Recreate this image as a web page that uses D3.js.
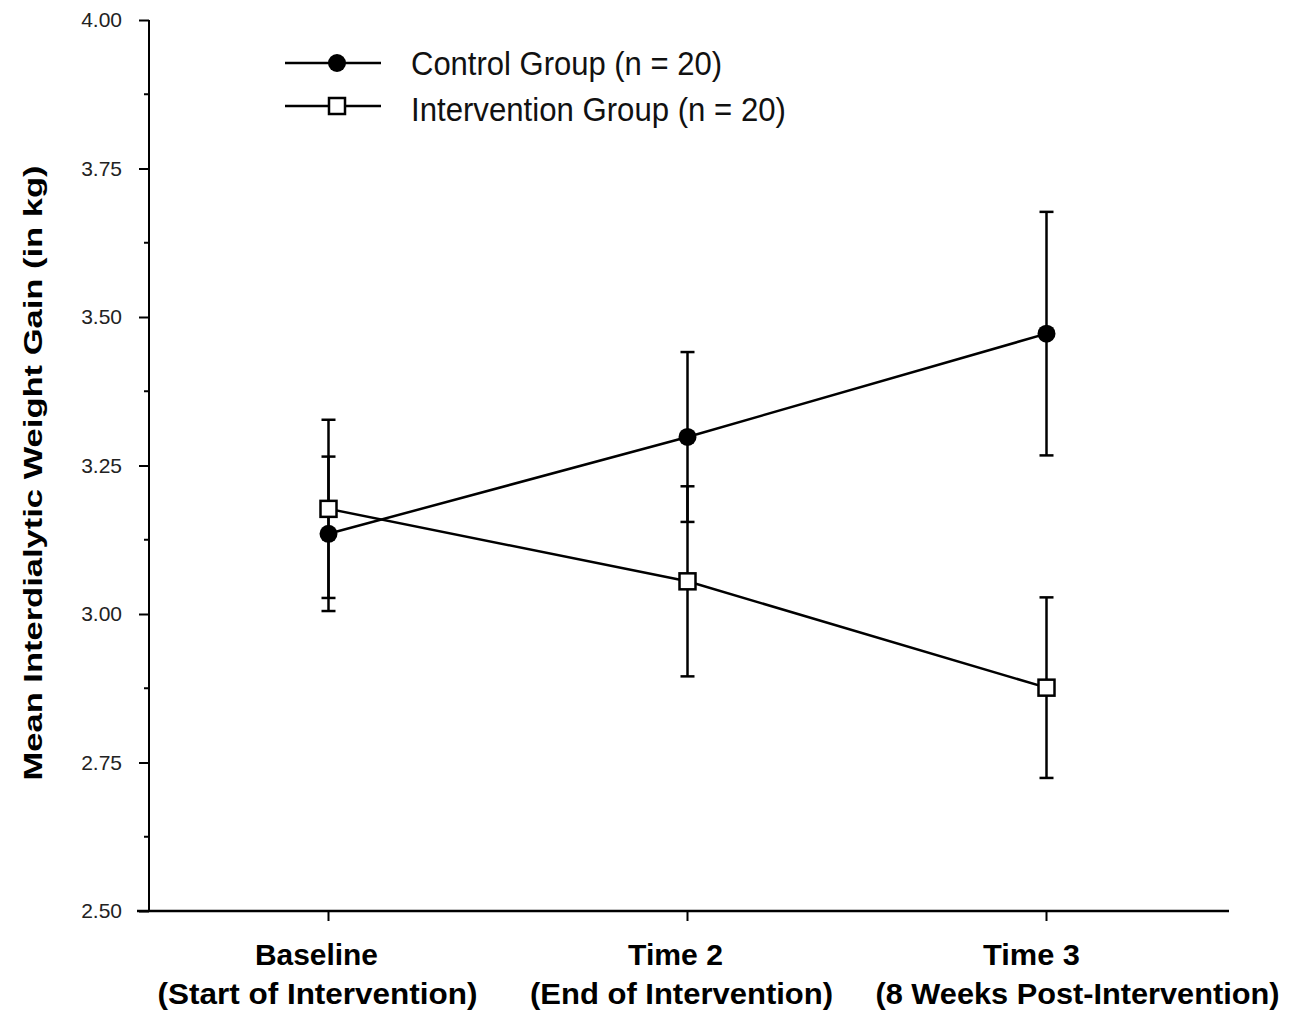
<!DOCTYPE html>
<html>
<head>
<meta charset="utf-8">
<script src="https://cdn.jsdelivr.net/npm/d3@7"></script>
<style>
  body { margin: 0; background: #fff; }
  svg { display: block; }
</style>
</head>
<body>
<div id="chart"></div>
<script>
// data
let timepoints = ['Baseline', 'Time 2', 'Time 3']
let timeSub = ['(Start of Intervention)', '(End of Intervention)', '(8 Weeks Post-Intervention)']
let controlMean = [3.135, 3.298, 3.472]
let controlErr = [0.13, 0.143, 0.205]
let interventionMean = [3.177, 3.055, 2.876]
let interventionErr = [0.15, 0.16, 0.152]
let yTicks = [2.50, 2.75, 3.00, 3.25, 3.50, 3.75, 4.00]
let yMinorTicks = [2.625, 2.875, 3.125, 3.375, 3.625, 3.875]
let seriesNames = ['Control Group (n = 20)', 'Intervention Group (n = 20)']

// layout of the stretched, condensed lettering in the scan
let labelShift = [[-12, -11], [-12, -6], [-15, 31]]
let labelWidth = [[123, 320], [95, 303], [97, 404]]
let legendWidth = [311, 375]

let width = 1298
let height = 1016
let margin = { top: 20, left: 149, bottom: 105, right: 72 }
let fontFam = 'Liberation Sans, Arial, sans-serif'

let svg = d3.select('#chart')
            .append('svg')
            .attr('width', width)
            .attr('height', height)

let x = d3.scalePoint()
          .domain(timepoints)
          .range([margin.left, width - margin.right])
          .padding(0.5)

let y = d3.scaleLinear()
          .domain([2.5, 4.0])
          .range([height - margin.bottom, margin.top])

let baseY = y(2.5)

// y axis
let yAxis = svg.append('g')
               .attr('transform', 'translate(' + margin.left + ',0)')
               .call(d3.axisLeft(y).tickValues(yTicks).tickFormat(d3.format('.2f')).tickSize(10).tickPadding(17))
yAxis.select('.domain').attr('d', 'M0,' + y(4.0) + 'V' + baseY).attr('stroke-width', 2)
yAxis.selectAll('.tick line').attr('stroke-width', 2)
yAxis.selectAll('.tick text')
     .style('font-family', fontFam)
     .style('font-size', '21px')
     .attr('fill', '#222')

svg.append('g')
   .selectAll('line')
   .data(yMinorTicks)
   .enter()
   .append('line')
   .attr('x1', margin.left - 5)
   .attr('x2', margin.left)
   .attr('y1', d => y(d))
   .attr('y2', d => y(d))
   .attr('stroke', '#000')
   .attr('stroke-width', 2)

// x axis
svg.append('line')
   .attr('x1', margin.left - 12)
   .attr('x2', width - margin.right + 3)
   .attr('y1', baseY)
   .attr('y2', baseY)
   .attr('stroke', '#000')
   .attr('stroke-width', 2.5)

svg.append('g')
   .selectAll('line')
   .data(timepoints)
   .enter()
   .append('line')
   .attr('x1', d => x(d))
   .attr('x2', d => x(d))
   .attr('y1', baseY)
   .attr('y2', baseY + 10)
   .attr('stroke', '#000')
   .attr('stroke-width', 2)

let xLabels = svg.append('g')
                 .style('font-family', fontFam)
                 .style('font-weight', 'bold')
                 .style('font-size', '30px')
                 .attr('text-anchor', 'middle')
timepoints.forEach(function (t, i) {
  xLabels.append('text')
         .attr('x', x(t) + labelShift[i][0])
         .attr('y', 965)
         .attr('textLength', labelWidth[i][0])
         .attr('lengthAdjust', 'spacingAndGlyphs')
         .text(t)
  xLabels.append('text')
         .attr('x', x(t) + labelShift[i][1])
         .attr('y', 1004)
         .attr('textLength', labelWidth[i][1])
         .attr('lengthAdjust', 'spacingAndGlyphs')
         .text(timeSub[i])
})

// y axis title
svg.append('text')
   .attr('transform', 'translate(42,' + 473 + ') rotate(-90)')
   .attr('text-anchor', 'middle')
   .attr('textLength', 615)
   .attr('lengthAdjust', 'spacingAndGlyphs')
   .style('font-family', fontFam)
   .style('font-weight', 'bold')
   .style('font-size', '25px')
   .text('Mean Interdialytic Weight Gain (in kg)')

// series
let series = [
  { name: seriesNames[0], mean: controlMean, err: controlErr, shape: 'circle' },
  { name: seriesNames[1], mean: interventionMean, err: interventionErr, shape: 'square' }
]

let line = d3.line()
             .x((d, i) => x(timepoints[i]))
             .y(d => y(d))

// error bars first
series.forEach(function (s) {
  let g = svg.append('g')
  s.mean.forEach(function (m, i) {
    let cx = x(timepoints[i])
    let hi = y(m + s.err[i])
    let lo = y(m - s.err[i])
    g.append('line')
     .attr('x1', cx).attr('x2', cx)
     .attr('y1', hi).attr('y2', lo)
     .attr('stroke', '#000')
     .attr('stroke-width', 2.5)
    ;[hi, lo].forEach(function (yy) {
      g.append('line')
       .attr('x1', cx - 7).attr('x2', cx + 7)
       .attr('y1', yy).attr('y2', yy)
       .attr('stroke', '#000')
       .attr('stroke-width', 2.5)
    })
  })
})

series.forEach(function (s) {
  svg.append('path')
     .datum(s.mean)
     .attr('d', line)
     .attr('fill', 'none')
     .attr('stroke', '#000')
     .attr('stroke-width', 2.5)
})

function drawMarker(g, shape, cx, cy) {
  if (shape === 'circle') {
    g.append('circle')
     .attr('cx', cx)
     .attr('cy', cy)
     .attr('r', 9)
     .attr('fill', '#000')
  } else {
    g.append('rect')
     .attr('x', cx - 8)
     .attr('y', cy - 8)
     .attr('width', 16)
     .attr('height', 16)
     .attr('fill', '#fff')
     .attr('stroke', '#000')
     .attr('stroke-width', 2.5)
  }
}

series.forEach(function (s) {
  let g = svg.append('g')
  s.mean.forEach(function (m, i) {
    drawMarker(g, s.shape, x(timepoints[i]), y(m))
  })
})

// legend
let legend = svg.append('g')
series.forEach(function (s, i) {
  let ly = 63 + i * 43
  legend.append('line')
        .attr('x1', 285).attr('x2', 381)
        .attr('y1', ly).attr('y2', ly)
        .attr('stroke', '#000')
        .attr('stroke-width', 2.5)
  drawMarker(legend, s.shape, 337, ly)
  legend.append('text')
        .attr('x', 411)
        .attr('y', 75 + i * 46)
        .attr('textLength', legendWidth[i])
        .attr('lengthAdjust', 'spacingAndGlyphs')
        .style('font-family', fontFam)
        .style('font-size', '34px')
        .attr('fill', '#111')
        .text(s.name)
})
</script>
</body>
</html>
